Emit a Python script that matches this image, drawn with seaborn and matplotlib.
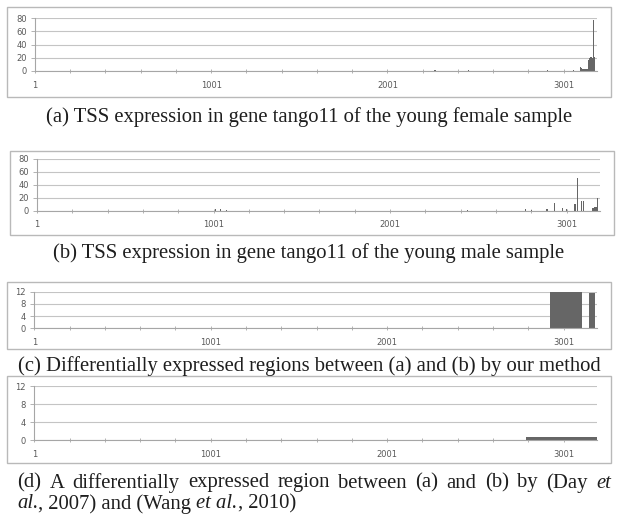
import numpy as np
import matplotlib
matplotlib.use('Agg')
import matplotlib.pyplot as plt
import seaborn as sns
from matplotlib.patches import Rectangle

sns.set_style('white')
plt.rcParams['font.family'] = ['DejaVu Sans']

# gene tango11, positions 1..3190
x_max = 3190
x_ticks = [1, 1001, 2001, 3001]
x_labels = ['1', '1001', '2001', '3001']

# (a) young female sample: TSS position, expression
female_pos = [2271, 2460, 2907, 3058, 3096, 3100, 3104, 3108, 3113, 3118, 3123, 3128, 3133,
              3145, 3148, 3151, 3154, 3157, 3160, 3163, 3166, 3168, 3171, 3174, 3177]
female_val = [1.5, 1, 2, 1.5, 6.5, 4, 3, 3, 2.5, 3, 2.5, 3, 3,
              16, 20, 14, 22, 18, 21, 15, 19, 78, 20, 17, 21]

# (b) young male sample
male_pos = [1010, 1040, 1075, 2440, 2770, 2800, 2890, 2932, 2979, 3002,
            3049, 3062, 3087, 3096, 3150, 3162, 3170, 3175]
male_val = [2, 2.5, 1.5, 1, 2, 1.5, 3, 12, 4, 2,
            10, 50, 15, 15, 4, 5, 6, 20]

# (c) regions found by our method: start, end, height
ours_start = [2924, 3143]
ours_end = [3104, 3177]
ours_height = [12, 11.5]

# (d) region found by Day et al. / Wang et al.
prev_start = [2785]
prev_end = [3190]
prev_height = [0.6]

captions = ['(a) TSS expression in gene tango11 of the young female sample',
            '(b) TSS expression in gene tango11 of the young male sample',
            '(c) Differentially expressed regions between (a) and (b) by our method']

W, H = 617, 523
fig = plt.figure(figsize=(W / 100, H / 100), dpi=100)
bar_color = '#666666'
line_grey = '#a6a6a6'


def px_axes(x0, x1, ytop, ybot):
    return fig.add_axes([x0 / W, 1 - ybot / H, (x1 - x0) / W, (ybot - ytop) / H])


def frame(x0, x1, y0, y1):
    fig.patches.append(Rectangle((x0 / W, 1 - y1 / H), (x1 - x0) / W, (y1 - y0) / H,
                                 transform=fig.transFigure, fill=False,
                                 edgecolor='#b9b9b9', lw=1))


def style(ax, ymax, ystep):
    ax.set_xlim(1, x_max)
    ax.set_ylim(0, ymax)
    ax.set_yticks(np.arange(0, ymax + 1, ystep))
    ax.set_xticks(x_ticks)
    ax.set_xticklabels(x_labels)
    ax.set_xticks(np.arange(1, x_max, 200), minor=True)
    ax.yaxis.grid(True, color='#c4c4c4', lw=0.8)
    ax.xaxis.grid(False)
    ax.set_axisbelow(True)
    ax.spines['top'].set_visible(False)
    ax.spines['right'].set_visible(False)
    ax.spines['left'].set_color(line_grey)
    ax.spines['bottom'].set_color(line_grey)
    ax.tick_params(axis='y', which='major', left=True, direction='out', length=3,
                   width=0.6, color=line_grey, labelsize=6, labelcolor='#595959', pad=3)
    ax.tick_params(axis='x', which='both', bottom=True, direction='inout', length=3,
                   width=0.6, color=line_grey, labelsize=6, labelcolor='#595959', pad=5.5)
    ax.set_xlabel('')
    ax.set_ylabel('')


def spikes(ax, pos, val):
    gap = np.diff(np.sort(pos)).min()
    sns.barplot(x=pos, y=val, native_scale=True, width=7 / gap, color=bar_color,
                saturation=1, errorbar=None, linewidth=0, ax=ax)


def regions(ax, start, end, height):
    edges = sorted(set(start + end))
    mids = [(s + e) / 2 for s, e in zip(start, end)]
    sns.histplot(x=mids, weights=height, bins=edges, color=bar_color, alpha=1,
                 linewidth=0, ax=ax)


# (a)
frame(7, 611, 7, 97)
ax_a = px_axes(35, 597, 18.3, 71)
spikes(ax_a, female_pos, female_val)
style(ax_a, 80, 20)

# (b)
frame(10, 614, 151, 235)
ax_b = px_axes(37, 600, 159, 210.7)
spikes(ax_b, male_pos, male_val)
style(ax_b, 80, 20)

# (c)
frame(7, 611, 282, 349)
ax_c = px_axes(34.3, 597, 291.7, 328.3)
regions(ax_c, ours_start, ours_end, ours_height)
style(ax_c, 12, 4)

# (d)
frame(7, 611, 376, 463)
ax_d = px_axes(34.3, 597, 386, 440)
regions(ax_d, prev_start, prev_end, prev_height)
style(ax_d, 12, 4)

cap = dict(fontsize=14.9, family='Liberation Serif', color='#1e1e1e', va='center')
for text, y in zip(captions, [117, 253, 366]):
    fig.text(309 / W, 1 - y / H, text, ha='center', **cap)

# (d) caption, justified first line
renderer = fig.canvas.get_renderer()
words = ['(d)', 'A', 'differentially', 'expressed', 'region', 'between', '(a)', 'and',
         '(b)', 'by', '(Day', 'et']
objs = [fig.text(0, 1 - 483 / H, w, ha='left', style='italic' if w == 'et' else 'normal', **cap)
        for w in words]
widths = [t.get_window_extent(renderer).width for t in objs]
gap = (611 - 17 - sum(widths)) / (len(words) - 1)
x = 17
for t, w in zip(objs, widths):
    t.set_x(x / W)
    x += w + gap

pieces = [('al.', 'italic'), (', 2007) and (Wang\u00a0', 'normal'), ('et al.', 'italic'),
          (', 2010)', 'normal')]
x = 17
for s, st in pieces:
    t = fig.text(x / W, 1 - 504 / H, s, ha='left', style=st, **cap)
    x += t.get_window_extent(renderer).width

fig.savefig('out.png', dpi=100)
